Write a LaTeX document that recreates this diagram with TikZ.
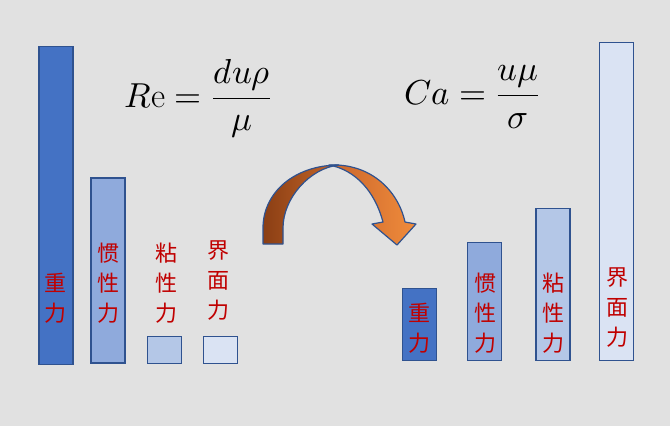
\documentclass[tikz,border=0pt]{standalone}
\usepackage{fontspec}
\usepackage{unicode-math}
\setmathfont{Latin Modern Math}
\newfontfamily\cjk{Noto Sans CJK SC}
\usepackage{tikz}
\usetikzlibrary{positioning}

\definecolor{bg}{HTML}{E1E1E1}
\definecolor{barline}{HTML}{2F528F}
\definecolor{fillA}{HTML}{4472C4}
\definecolor{fillB}{HTML}{8FAADC}
\definecolor{fillC}{HTML}{B4C7E7}
\definecolor{fillD}{HTML}{DAE3F3}
\definecolor{labred}{HTML}{C00000}
\definecolor{brownL}{HTML}{8A3E14}
\definecolor{brownR}{HTML}{C8682A}
\definecolor{orangeL}{HTML}{C9642A}
\definecolor{orangeR}{HTML}{F08C3C}

\begin{document}
\begin{tikzpicture}[x=0.75pt,y=-0.75pt]
		\tikzstyle{bar}=[draw=barline,line width=1.1pt,inner sep=0pt,minimum width=25.5pt,anchor=south]
		\tikzstyle{lbl}=[text=labred,font=\cjk\fontsize{16.5}{22.5}\selectfont,align=center,inner sep=0pt]
		\tikzstyle{formula}=[font=\fontsize{26}{30}\selectfont,inner sep=0pt]
		\tikzstyle{arrowpart}=[draw=barline,line width=0.9pt,line join=round]

		\fill[bg] (0,0) rectangle (670,426);

		% before
		\node[bar,fill=fillA,minimum height=238.5pt] (gravL) at (56,365) {};
		\node[bar,fill=fillB,minimum height=138.75pt] (inerL) at (108,363.5) {};
		\node[bar,fill=fillC,minimum height=20.25pt] (viscL) at (164.5,364) {};
		\node[bar,fill=fillD,minimum height=20.25pt] (surfL) at (220.5,364) {};
		\node[lbl] (gravLt) at (55,298) {重\\力};
		\node[lbl] (inerLt) at (108,283) {惯\\性\\力};
		\node[lbl] (viscLt) at (166,283) {粘\\性\\力};
		\node[lbl] (surfLt) at (218,281) {界\\面\\力};

		% after
		\node[bar,fill=fillA,minimum height=54pt] (gravR) at (419.5,361) {};
		\node[bar,fill=fillB,minimum height=88.5pt] (inerR) at (484.5,361) {};
		\node[bar,fill=fillC,minimum height=114pt] (viscR) at (553,361) {};
		\node[bar,fill=fillD,minimum height=238.5pt] (surfR) at (616.5,361) {};
		\node[lbl] (gravRt) at (419,328) {重\\力};
		\node[lbl] (inerRt) at (485,313) {惯\\性\\力};
		\node[lbl] (viscRt) at (553,313) {粘\\性\\力};
		\node[lbl] (surfRt) at (617,308) {界\\面\\力};

		\node[formula] (reyn) at (198,99) {$R\mathrm{e}=\dfrac{du\rho}{\mu}$};
		\node[formula] (capi) at (472,97) {$Ca=\dfrac{u\mu}{\sigma}$};

		% curved arrow
		\path[arrowpart,left color=orangeL,right color=orangeR]
			(329,165) .. controls (370,163) and (398,190) .. (405,222) -- (416,224) -- (397,245)
			-- (372,224) -- (383,222) .. controls (375,192) and (356,170) .. (329,165) -- cycle;
		\path[arrowpart,left color=brownL,right color=brownR]
			(263,244) -- (263,228) .. controls (263,192) and (295,165) .. (339,165)
			.. controls (310,168) and (283,198) .. (283,228) -- (283,244) -- cycle;
	\end{tikzpicture}
\end{document}
